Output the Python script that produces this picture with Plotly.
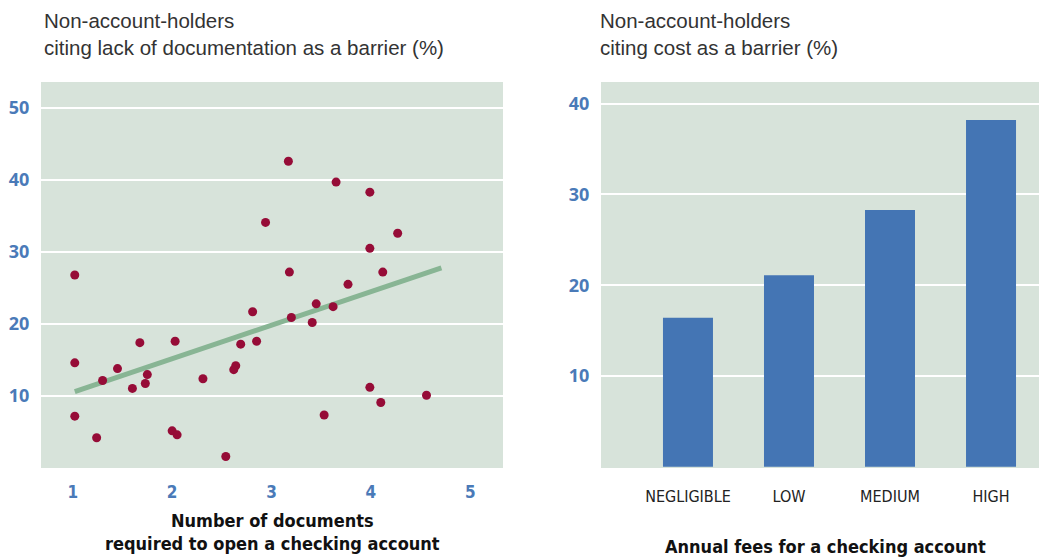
import plotly.graph_objects as go

# Left panel: documents required vs. share citing lack of documentation
docs_x = [1.02, 2.94, 3.17, 3.65, 3.99, 4.27, 3.99, 3.18, 4.12, 3.77,
          2.81, 3.45, 3.62, 3.20, 3.41, 2.85, 3.99, 4.10, 4.56, 3.53,
          1.02, 1.675, 2.03, 2.69, 1.45, 1.30, 1.75, 1.73, 1.60, 2.31,
          2.64, 2.62, 1.02, 1.24, 2.00, 2.05, 2.54]
docs_y = [26.8, 34.1, 42.6, 39.7, 38.3, 32.6, 30.5, 27.2, 27.2, 25.5,
          21.7, 22.8, 22.4, 20.9, 20.2, 17.6, 11.2, 9.1, 10.1, 7.36,
          14.6, 17.4, 17.6, 17.2, 13.8, 12.15, 12.97, 11.74, 11.05, 12.4,
          14.2, 13.66, 7.2, 4.2, 5.16, 4.6, 1.6]
trend_x = [1.02, 4.71]
trend_y = [10.6, 27.8]

# Right panel: annual fees vs. share citing cost
fee_levels = ["NEGLIGIBLE", "LOW", "MEDIUM", "HIGH"]
cost_share = [16.4, 21.1, 28.3, 38.2]

left_ticks = [1, 2, 3, 4, 5]
left_yticks = [10, 20, 30, 40, 50]
right_yticks = [10, 20, 30, 40]

W, H = 1039, 559
BLUE = "#4a7ab8"
NARROW = "Liberation Sans Narrow, DejaVu Sans Condensed, sans-serif"

fig = go.Figure()

fig.add_trace(go.Scatter(x=trend_x, y=trend_y, mode="lines",
                         line=dict(color="#88b594", width=5),
                         xaxis="x", yaxis="y", showlegend=False))
fig.add_trace(go.Scatter(x=docs_x, y=docs_y, mode="markers",
                         marker=dict(color="#960c37", size=9),
                         xaxis="x", yaxis="y", showlegend=False))
fig.add_trace(go.Bar(x=list(range(len(fee_levels))), y=cost_share,
                     marker=dict(color="#4475b4", line=dict(width=0)),
                     width=0.495, xaxis="x2", yaxis="y2", showlegend=False))

ydom = [(H - 468) / H, (H - 82) / H]
ytick_font = dict(family="Open Sans", size=18, color=BLUE, weight="bold")

fig.update_layout(
    width=W, height=H,
    margin=dict(l=0, r=0, t=0, b=0),
    paper_bgcolor="white",
    plot_bgcolor="#d7e3da",
    xaxis=dict(domain=[41 / W, 503 / W], range=[0.68, 5.33],
               tickvals=left_ticks, showgrid=False, zeroline=False,
               ticks="outside", ticklen=9, tickcolor="rgba(0,0,0,0)",
               tickfont=dict(family=NARROW, size=17, color=BLUE, weight="bold")),
    yaxis=dict(domain=ydom, range=[0, 53.6], tickvals=left_yticks,
               showgrid=True, gridcolor="white", gridwidth=1.5, zeroline=False,
               ticks="outside", ticklen=7, tickcolor="rgba(0,0,0,0)",
               tickfont=ytick_font),
    xaxis2=dict(domain=[601 / W, 1.0], range=[-0.861, 3.475],
                tickvals=list(range(len(fee_levels))), ticktext=fee_levels,
                showgrid=False, zeroline=False, anchor="y2",
                ticks="outside", ticklen=14, tickcolor="rgba(0,0,0,0)",
                tickfont=dict(family=NARROW, size=16, color="#222")),
    yaxis2=dict(domain=ydom, range=[-0.15, 42.4], tickvals=right_yticks,
                anchor="x2", showgrid=True, gridcolor="white", gridwidth=1.5,
                zeroline=False, ticks="outside", ticklen=7,
                tickcolor="rgba(0,0,0,0)", tickfont=ytick_font),
)

title_font = dict(family="Liberation Sans", size=20.5, color="#333")
fig.add_annotation(text="Non-account-holders<br>citing lack of documentation as a barrier (%)",
                   x=42 / W, y=1 - 7 / H, xref="paper", yref="paper",
                   xanchor="left", yanchor="top", align="left",
                   showarrow=False, font=title_font)
fig.add_annotation(text="Non-account-holders<br>citing cost as a barrier (%)",
                   x=598 / W, y=1 - 7 / H, xref="paper", yref="paper",
                   xanchor="left", yanchor="top", align="left",
                   showarrow=False, font=title_font)

axis_font = dict(family=NARROW, size=18, color="#111", weight="bold")
fig.add_annotation(text="Number of documents<br>required to open a checking account",
                   x=272 / W, y=1 - 508 / H, xref="paper", yref="paper",
                   xanchor="center", yanchor="top", align="center",
                   showarrow=False, font=axis_font)
fig.add_annotation(text="Annual fees for a checking account",
                   x=825 / W, y=1 - 534 / H, xref="paper", yref="paper",
                   xanchor="center", yanchor="top", align="center",
                   showarrow=False, font=axis_font)

fig.write_html("out.html", config={"displayModeBar": False},
               post_script="document.body.style.margin='0px';")
